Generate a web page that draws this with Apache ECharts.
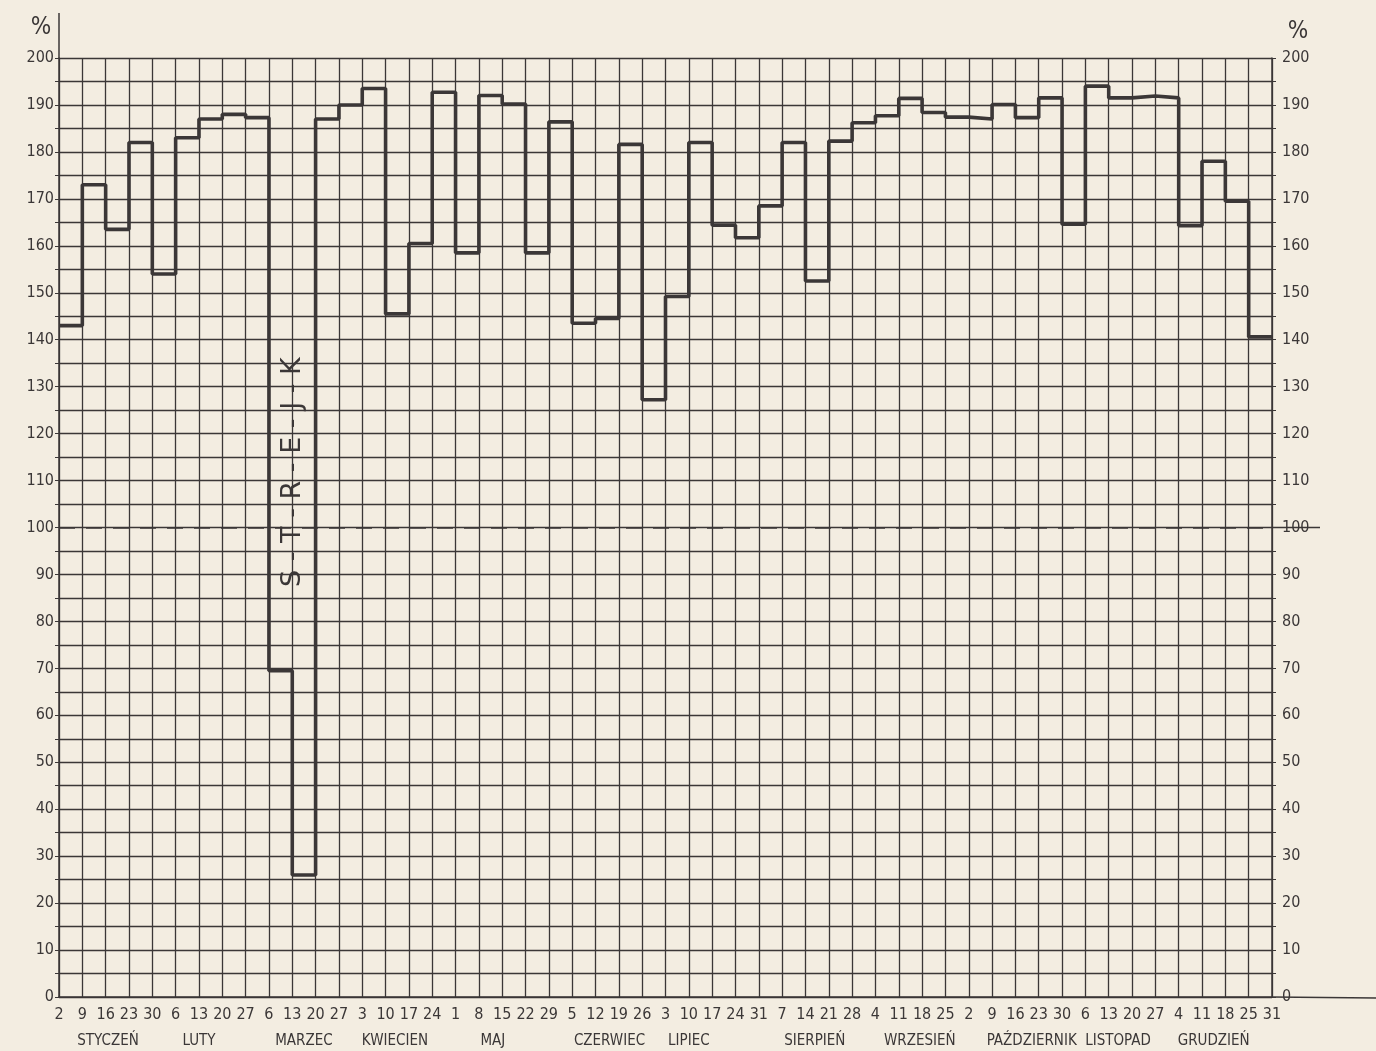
<!DOCTYPE html>
<html><head><meta charset="utf-8">
<script src="https://cdn.jsdelivr.net/npm/echarts@6/dist/echarts.min.js"></script>
<style>html,body{margin:0;padding:0;background:#f3ede1}#c{width:1376px;height:1051px}</style>
</head><body><div id="c"></div>
<script>
// Week-start dates (tick labels along the bottom axis)
const dateLabels = ['2','9','16','23','30','6','13','20','27','6','13','20','27','3','10','17','24','1','8','15','22','29','5','12','19','26','3','10','17','24','31','7','14','21','28','4','11','18','25','2','9','16','23','30','6','13','20','27','4','11','18','25','31'];
// Months and the tick index they are centred on
const monthNames = ['STYCZEŃ','LUTY','MARZEC','KWIECIEN','MAJ','CZERWIEC','LIPIEC','SIERPIEŃ','WRZESIEŃ','PAŹDZIERNIK','LISTOPAD','GRUDZIEŃ'];
const monthCenters = [2.1,6.0,10.5,14.4,18.6,23.6,27.0,32.4,36.9,41.7,45.4,49.5];
// Weekly values, % (one per week interval)
const weeklyValues = [143,173,163.5,182,154,183,187,188,187.3,69.5,26,187,190,193.5,145.5,160.5,192.7,158.5,192,190.2,158.5,186.4,143.5,144.5,181.6,127.2,149.2,182,164.4,161.7,168.5,182,152.5,182.3,186.2,187.7,191.4,188.4,187.4,187,190.1,187.3,191.5,164.6,194,191.5,191.9,191.5,164.3,178,169.5,140.6];
const yTicks = [0,10,20,30,40,50,60,70,80,90,100,110,120,130,140,150,160,170,180,190,200];
const strikeText = 'S - T - R - E - J - K';

const ink = '#3b3737';
const font = '"DejaVu Sans Condensed","Liberation Sans Narrow","Noto Sans",sans-serif';
const stepData = weeklyValues.map((v,i)=>[i,v]);
stepData.push([weeklyValues.length, weeklyValues[weeklyValues.length-1]]);

const chart = echarts.init(document.getElementById('c'));
const yLabel = v => yTicks.includes(v) ? String(v) : '';
const yCommon = {
  type:'value', min:0, max:200, interval:5,
  axisLine:{show:true, lineStyle:{color:ink, width:1.5}},
  axisTick:{show:true, length:4, lineStyle:{color:ink}},
  splitLine:{show:true, lineStyle:{color:ink, width:1.3}},
  axisLabel:{formatter:yLabel, color:ink, fontFamily:font, fontSize:16}
};
chart.setOption({
  backgroundColor:'#f3ede1',
  animation:false,
  grid:{left:59, right:104, top:58, bottom:54},
  xAxis:{
    type:'value', min:0, max:dateLabels.length-1, interval:1,
    axisLine:{show:true, onZero:false, lineStyle:{color:ink, width:1.5}},
    axisTick:{show:false},
    splitLine:{show:true, lineStyle:{color:ink, width:1.3}},
    axisLabel:{formatter:v=>dateLabels[v]||'', color:ink, fontFamily:font, fontSize:16, margin:10, hideOverlap:false, showMinLabel:true, showMaxLabel:true}
  },
  yAxis:[
    Object.assign({}, yCommon, {position:'left', axisLabel:Object.assign({}, yCommon.axisLabel, {margin:5})}),
    Object.assign({}, yCommon, {position:'right', splitLine:{show:false}, axisLabel:Object.assign({}, yCommon.axisLabel, {margin:10})})
  ],
  series:[{
    type:'line', step:'end', data:stepData, symbol:'none',
    lineStyle:{color:ink, width:3.6},
    markLine:{silent:true, symbol:'none', label:{show:false},
      lineStyle:{color:ink, type:[16,11], width:1.5},
      data:[{yAxis:100}]}
  }]
});

function px(x,y){return chart.convertToPixel({gridIndex:0},[x,y]);}
const n = dateLabels.length-1;
const g = [];
monthNames.forEach((m,i)=>{
  const p = px(monthCenters[i],0);
  g.push({type:'text', x:p[0], y:p[1]+44, style:{text:m, fill:ink, font:'15px '+font, textAlign:'center', textVerticalAlign:'middle'}});
});
const top200 = px(0,200), r0 = px(n,0), r100 = px(n,100), r200 = px(n,200);
g.push({type:'line', shape:{x1:top200[0], y1:top200[1], x2:top200[0], y2:13}, style:{stroke:ink, lineWidth:1.5}});
g.push({type:'line', shape:{x1:r0[0], y1:r0[1], x2:1376, y2:r0[1]+1}, style:{stroke:ink, lineWidth:1.3}});
g.push({type:'line', shape:{x1:r100[0], y1:r100[1], x2:r100[0]+48, y2:r100[1]}, style:{stroke:ink, lineWidth:1.3}});
g.push({type:'text', x:top200[0]-18, y:top200[1]-30, style:{text:'%', fill:ink, font:'24px '+font, textAlign:'center', textVerticalAlign:'middle'}});
g.push({type:'text', x:r200[0]+26, y:r200[1]-26, style:{text:'%', fill:ink, font:'24px '+font, textAlign:'center', textVerticalAlign:'middle'}});
const s = px(10.05, 111.8);
g.push({type:'text', x:s[0], y:s[1], rotation:Math.PI/2, style:{text:strikeText, fill:ink, font:'27px "DejaVu Sans",sans-serif', textAlign:'center', textVerticalAlign:'middle'}});
chart.setOption({graphic:g});
</script></body></html>
